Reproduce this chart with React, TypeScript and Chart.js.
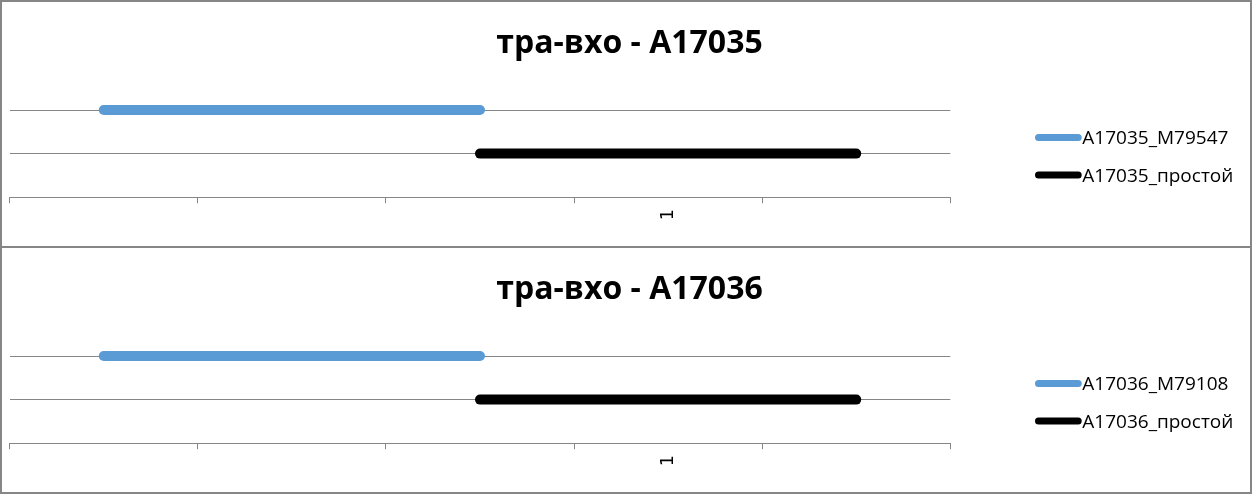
import React, { useEffect, useRef } from 'react';
import { Chart, registerables } from 'chart.js';

Chart.register(...registerables);

// ---- data ----
const categories = ['', '', '', '1', ''];
const panelTitles = ['тра-вхо - A17035', 'тра-вхо - A17036'];
const workLabels = ['A17035_M79547', 'A17036_M79108'];
const idleLabels = ['A17035_простой', 'A17036_простой'];
const workValues = [2, 2, 2, null, null];
const idleValues = [null, null, 1, 1, 1];
const yMin = 0;
const yMax = 2;
const yStep = 1;

// ---- styles ----
const BLUE = '#5B9BD5';
const BLACK = '#000000';
const GRID = '#868686';
const TEXT_FONT = '"Open Sans", "DejaVu Sans", sans-serif';

const decorPlugin = {
  id: 'decor',
  afterDraw(chart: any, _args: any, opts: any) {
    const { ctx } = chart;
    ctx.save();
    ctx.fillStyle = '#000';
    ctx.font = `bold ${opts.titleSize}px ${TEXT_FONT}`;
    ctx.textAlign = 'center';
    ctx.textBaseline = 'alphabetic';
    ctx.fillText(opts.title, opts.titleX, opts.titleY);
    ctx.font = `${opts.legendSize}px ${TEXT_FONT}`;
    ctx.textAlign = 'left';
    chart.data.datasets.forEach((ds: any, i: number) => {
      const y = opts.legendY + i * opts.legendGap;
      ctx.strokeStyle = ds.borderColor;
      ctx.lineWidth = opts.legendLineWidth;
      ctx.lineCap = 'round';
      ctx.beginPath();
      ctx.moveTo(opts.legendX1, y);
      ctx.lineTo(opts.legendX2, y);
      ctx.stroke();
      ctx.fillStyle = '#000';
      ctx.fillText(ds.label, opts.legendTextX, y + opts.legendBaselineOffset);
    });
    ctx.restore();
  },
};

function Panel({ index }: { index: number }) {
  const ref = useRef<HTMLCanvasElement>(null);
  useEffect(() => {
    if (!ref.current) return;
    const lineStyle = {
      borderWidth: 10,
      borderCapStyle: 'round',
      borderJoinStyle: 'round',
      pointRadius: 0,
      pointHoverRadius: 0,
      spanGaps: false,
      tension: 0,
      clip: 8,
    };
    const chart = new Chart(ref.current, {
      type: 'line',
      data: {
        labels: categories,
        datasets: [
          { label: workLabels[index], data: workValues, borderColor: BLUE, backgroundColor: BLUE, ...lineStyle },
          { label: idleLabels[index], data: idleValues, borderColor: BLACK, backgroundColor: BLACK, ...lineStyle },
        ],
      } as any,
      options: {
        responsive: false,
        animation: false,
        devicePixelRatio: 1,
        events: [],
        layout: { padding: { left: 7.7, right: 299.7, top: 108, bottom: 0 } },
        plugins: {
          legend: { display: false },
          title: { display: false },
          tooltip: { enabled: false },
          decor: {
            title: panelTitles[index],
            titleSize: 32,
            titleX: 627.5,
            titleY: 51.3,
            legendSize: 19,
            legendY: 135.5,
            legendGap: 37.5,
            legendLineWidth: 7,
            legendX1: 1036.5,
            legendX2: 1076.2,
            legendTextX: 1080.3,
            legendBaselineOffset: 6.5,
          },
        } as any,
        scales: {
          x: {
            type: 'category',
            offset: true,
            grid: {
              offset: true,
              drawOnChartArea: false,
              drawTicks: true,
              tickLength: 6,
              color: GRID,
            },
            border: { display: true, color: GRID, width: 1 },
            ticks: {
              autoSkip: false,
              minRotation: 90,
              maxRotation: 90,
              padding: 6,
              color: '#000',
              font: { family: '"DejaVu Sans", sans-serif', size: 17 },
            },
            afterFit: (s: any) => {
              s.height = 48.8;
            },
          },
          y: {
            min: yMin,
            max: yMax,
            ticks: { stepSize: yStep, display: false },
            grid: { color: GRID, drawTicks: false, lineWidth: 1 },
            border: { display: false },
            afterFit: (s: any) => {
              s.width = 0;
            },
          },
        } as any,
      },
      plugins: [decorPlugin],
    });
    return () => chart.destroy();
  }, [index]);

  return (
    <div
      style={{
        position: 'absolute',
        left: 0,
        top: index === 0 ? 0 : 246,
        width: 1252,
        height: 248,
        border: `2px solid ${GRID}`,
        boxSizing: 'border-box',
        background: '#fff',
      }}
    >
      <canvas ref={ref} width={1248} height={244} style={{ display: 'block', width: 1248, height: 244 }} />
    </div>
  );
}

export default function App() {
  return (
    <div style={{ position: 'fixed', left: 0, top: 0, width: 1252, height: 494, background: '#fff' }}>
      <Panel index={0} />
      <Panel index={1} />
    </div>
  );
}
